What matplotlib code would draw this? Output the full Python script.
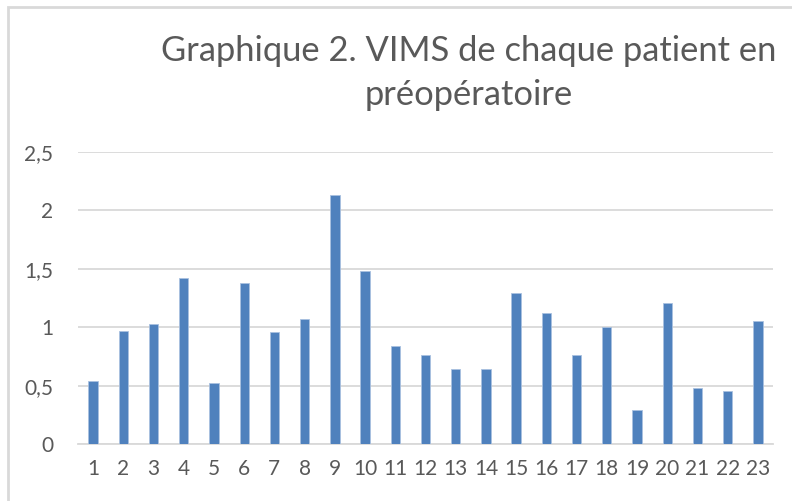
import matplotlib
matplotlib.use("Agg")
import matplotlib.pyplot as plt
from matplotlib.patches import Rectangle
import numpy as np

patients = [str(i) for i in range(1, 24)]
vims = [0.54, 0.97, 1.03, 1.42, 0.52, 1.38, 0.96, 1.07, 2.13, 1.48, 0.84, 0.76,
        0.64, 0.64, 1.29, 1.12, 0.76, 1.00, 0.29, 1.21, 0.48, 0.45, 1.05]
yticks = [0, 0.5, 1, 1.5, 2, 2.5]
ytick_labels = ['0', '0,5', '1', '1,5', '2', '2,5']

plt.rcParams['font.family'] = ['Lato', 'DejaVu Sans']
txt = '#595959'

W, H = 792, 501
fig = plt.figure(figsize=(W / 100, H / 100), dpi=100)
ax = fig.add_axes([78 / W, 1 - 444 / H, (773 - 78) / W, (444 - 152) / H])

# chart border (cropped at right/bottom)
fig.patches.append(Rectangle((8 / W, -0.1), 1.2, 1 - 7 / H + 0.1, transform=fig.transFigure,
                             fill=False, edgecolor='#d9d9d9', linewidth=2))

x = np.arange(len(patients))
ax.bar(x, vims, width=0.31, color='#4F81BD', edgecolor='#a9c1e0', linewidth=0.6, zorder=3)

ax.set_xlim(-0.5, len(patients) - 0.5)
ax.set_ylim(0, 2.5)
ax.set_yticks(yticks)
ax.set_yticklabels(ytick_labels)
ax.set_xticks(x)
ax.set_xticklabels(patients)
ax.yaxis.grid(True, color='#d9d9d9', linewidth=1.3, zorder=0)
for s in ['top', 'right', 'left']:
    ax.spines[s].set_visible(False)
ax.spines['bottom'].set_color('#d9d9d9')
ax.spines['bottom'].set_linewidth(1.3)
ax.tick_params(axis='both', length=0, colors=txt, labelsize=15)
ax.tick_params(axis='y', pad=18)
ax.tick_params(axis='x', pad=11)

fig.text(469 / W, 1 - 73 / H, 'Graphique 2. VIMS de chaque patient en\npréopératoire',
         ha='center', va='center', fontsize=24.8, color=txt, linespacing=1.48)

fig.savefig('out.png', dpi=100)
